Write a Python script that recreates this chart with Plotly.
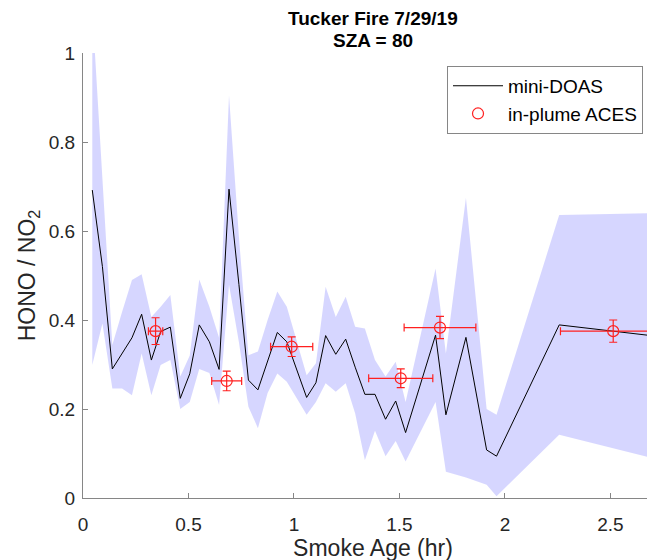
import plotly.graph_objects as go

# mini-DOAS HONO/NO2 along smoke age, with its uncertainty band
age = [0.044, 0.092, 0.139, 0.185, 0.232, 0.278, 0.324, 0.368, 0.414, 0.461,
       0.506, 0.551, 0.599, 0.645, 0.692, 0.739, 0.784, 0.829, 0.875, 0.921,
       0.966, 1.06, 1.104, 1.15, 1.198, 1.245, 1.29, 1.336, 1.384, 1.434,
       1.482, 1.529, 1.671, 1.72, 1.815, 1.913, 1.96, 2.257, 2.8]
doas = [0.692, 0.52, 0.29, 0.325, 0.36, 0.413, 0.31, 0.374, 0.384, 0.224,
        0.279, 0.389, 0.351, 0.289, 0.694, 0.48, 0.265, 0.243, 0.31, 0.372,
        0.351, 0.226, 0.259, 0.365, 0.323, 0.357, 0.294, 0.233, 0.233, 0.177,
        0.218, 0.147, 0.366, 0.187, 0.361, 0.108, 0.094, 0.389, 0.359]
upper = [1.10, 0.72, 0.344, 0.418, 0.49, 0.503, 0.407, 0.43, 0.456, 0.273,
         0.32, 0.491, 0.43, 0.36, 0.905, 0.587, 0.321, 0.329, 0.4, 0.464,
         0.43, 0.276, 0.303, 0.475, 0.407, 0.452, 0.385, 0.381, 0.31, 0.273,
         0.306, 0.216, 0.516, 0.325, 0.675, 0.2, 0.187, 0.636, 0.641]
lower = [0.299, 0.392, 0.246, 0.246, 0.231, 0.325, 0.231, 0.299, 0.31, 0.2,
         0.216, 0.29, 0.281, 0.209, 0.479, 0.35, 0.205, 0.157, 0.236, 0.28,
         0.261, 0.187, 0.216, 0.258, 0.239, 0.258, 0.19, 0.085, 0.151, 0.094,
         0.128, 0.082, 0.216, 0.059, 0.046, 0.03, 0.004, 0.142, 0.078]

# in-plume ACES points
aces_age = [0.344, 0.681, 0.989, 1.506, 1.692, 2.513]
aces_val = [0.375, 0.263, 0.34, 0.269, 0.383, 0.375]
aces_age_err = [0.034, 0.071, 0.1, 0.152, 0.17, 0.25]
aces_val_err = [0.03, 0.022, 0.022, 0.021, 0.025, 0.025]

FONT = "Liberation Sans, Arial, sans-serif"
GRAY = "#262626"
AXIS = "#868686"
RED = "#ff2020"

fig = go.Figure()

fig.add_trace(go.Scatter(
    x=age + age[::-1], y=upper + lower[::-1],
    fill="toself", fillcolor="rgba(0,0,255,0.16)",
    line=dict(width=0), mode="lines", hoverinfo="skip", showlegend=False))

fig.add_trace(go.Scatter(
    x=age, y=doas, mode="lines", name="mini-DOAS",
    line=dict(color="black", width=1)))

fig.add_trace(go.Scatter(
    x=aces_age, y=aces_val, mode="markers", name="in-plume ACES",
    marker=dict(symbol="circle-open", size=11, color=RED, line=dict(width=1.2)),
    error_x=dict(type="data", array=aces_age_err, color=RED, thickness=1.2, width=4),
    error_y=dict(type="data", array=aces_val_err, color=RED, thickness=1.2, width=4)))

# page body adds an 8px offset, so margins are set 8px smaller
fig.update_layout(
    width=655, height=560,
    margin=dict(l=75, r=0, t=45, b=70),
    plot_bgcolor="white", paper_bgcolor="white",
    font=dict(family=FONT, size=19, color=GRAY),
    xaxis=dict(range=[0, 2.749], tickvals=[0, 0.5, 1, 1.5, 2, 2.5],
               ticktext=["0", "0.5", "1", "1.5", "2", "2.5"],
               ticks="inside", ticklen=5, tickcolor=AXIS, showline=True,
               linecolor=AXIS, linewidth=1, showgrid=False, zeroline=False,
               automargin=False, ticklabelstandoff=9,
               title=dict(text="Smoke Age (hr)", standoff=3)),
    yaxis=dict(range=[0, 1], tickvals=[0, 0.2, 0.4, 0.6, 0.8, 1],
               ticktext=["0", "0.2", "0.4", "0.6", "0.8", "1"],
               ticks="inside", ticklen=5, tickcolor=AXIS, showline=True,
               linecolor=AXIS, linewidth=1, showgrid=False, zeroline=False,
               automargin=False, ticklabelstandoff=3,
               title=dict(text="HONO / NO<sub>2</sub>", standoff=6)),
    legend=dict(x=0.6276, y=0.971, xanchor="left", yanchor="top",
                bordercolor=AXIS, borderwidth=1, bgcolor="white",
                font=dict(size=19, color="black"), itemwidth=50,
                tracegroupgap=0),
    annotations=[
        dict(text="<b>Tucker Fire 7/29/19</b>", xref="paper", yref="paper",
             x=0.5, y=(490 - 11) / 445, xanchor="center", yanchor="middle",
             showarrow=False, font=dict(size=19, color="black")),
        dict(text="<b>SZA = 80</b>", xref="paper", yref="paper",
             x=0.5, y=(490 - 33) / 445, xanchor="center", yanchor="middle",
             showarrow=False, font=dict(size=19, color="black")),
    ],
)

fig.write_html("out.html")
